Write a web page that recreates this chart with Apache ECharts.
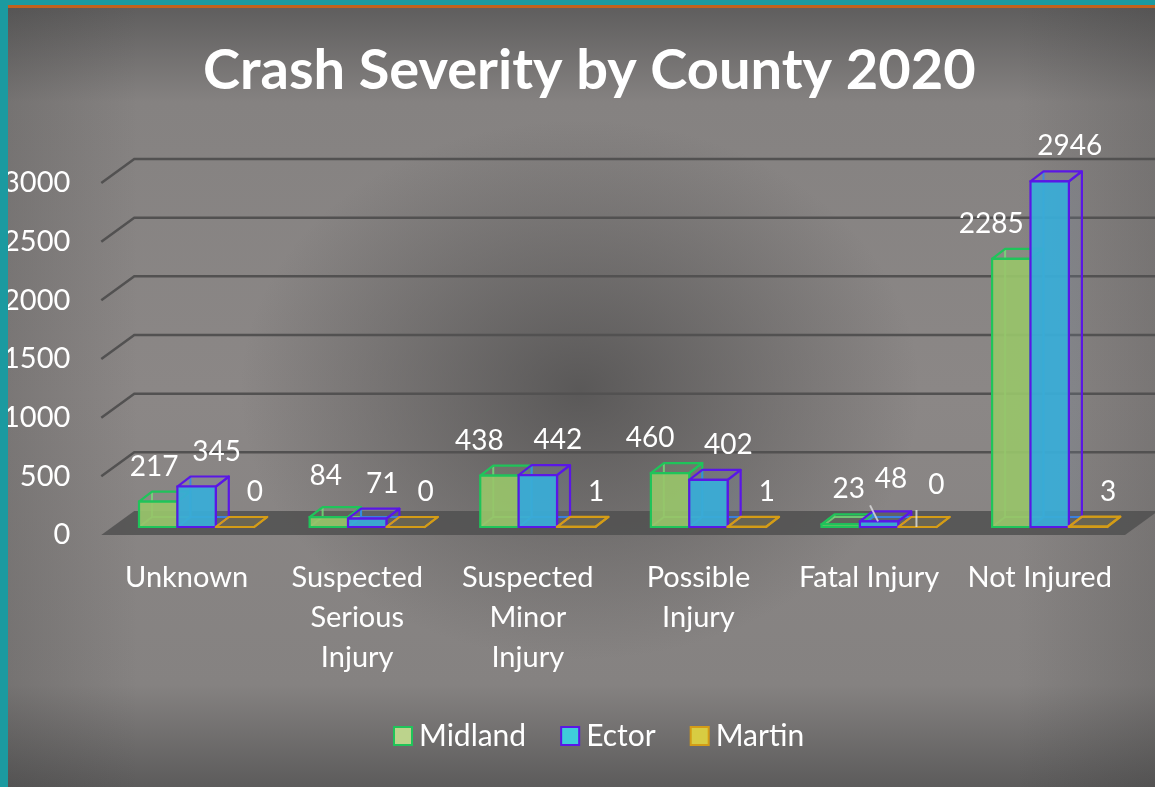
<!DOCTYPE html>
<html>
<head>
<meta charset="utf-8">
<script src="https://cdn.jsdelivr.net/npm/echarts@6/dist/echarts.min.js"></script>
<style>
html, body { margin: 0; padding: 0; }
#page {
    position: relative; width: 1155px; height: 787px; overflow: hidden;
    background:
        radial-gradient(ellipse 340px 270px at 580px 390px, rgba(78,77,77,0.8) 0%, rgba(78,77,77,0) 100%),
        linear-gradient(to right, rgba(40,40,40,0.18) 0%, rgba(40,40,40,0) 12%, rgba(40,40,40,0) 88%, rgba(40,40,40,0.18) 100%),
        linear-gradient(to bottom, #5c5b5b 0%, #858281 13%, #8b8786 50%, #858281 87%, #5c5b5b 100%);
}
#chart { position: absolute; left: 0; top: 0; width: 1155px; height: 787px; }
.edge-left { position: absolute; left: 0; top: 0; width: 8px; height: 787px; background: #1b9aa0; z-index: 5; }
.edge-top { position: absolute; left: 0; top: 0; width: 1155px; height: 5px; background: #1b9aa0; z-index: 5; }
.edge-orange { position: absolute; left: 8px; top: 5px; width: 1147px; height: 2.5px; background: #c2611d; z-index: 5; }
</style>
</head>
<body>
<div id="page">
    <div id="chart"></div>
    <div class="edge-left"></div>
    <div class="edge-top"></div>
    <div class="edge-orange"></div>
</div>
<script>
// data
const categories = ['Unknown', 'Suspected\nSerious\nInjury', 'Suspected\nMinor\nInjury', 'Possible\nInjury', 'Fatal Injury', 'Not Injured'];
const midland = [217, 84, 438, 460, 23, 2285];
const ector = [345, 71, 442, 402, 48, 2946];
const martin = [0, 0, 1, 1, 0, 3];
const yTicks = [0, 500, 1000, 1500, 2000, 2500, 3000];

// 3D look
const FLOOR_DX = 33, FLOOR_DY = 24;    // depth of the floor
const SHIFT_X = 10, SHIFT_Y = 8;       // bars sit a bit behind the front edge
const DEPTH_X = 13, DEPTH_Y = 10;      // depth of one bar
const BAR_FRAC = 0.225;
const FONT = 'Lato, "Open Sans", sans-serif';

// label tweaks where the original moved a label away from the default spot
const labelNudge = {
    '0:0': { dx: -4 },
    '0:1': { dx: -3, dy: -41 },
    '1:1': { dx: 15 },
    '0:4': { dx: 8 },
    '1:4': { dx: 12, dy: -42, lead: [-9, -16, -1, 0] },
    '2:4': { dx: 19, dy: -42, lead: [-1, -17, -1, 0] }
};

const looks = [
    { name: 'Midland', fill: 'rgba(152,196,106,0.92)', stroke: '#1fc45a', hidden: 'rgba(110,230,120,0.8)', side: 'rgba(150,190,120,0.12)', legendFill: '#bcd38c' },
    { name: 'Ector', fill: 'rgba(58,172,214,0.95)', stroke: '#5a17e6', hidden: 'rgba(40,130,250,0.9)', side: 'rgba(130,150,180,0.18)', legendFill: '#3fcdda' },
    { name: 'Martin', fill: 'rgba(210,180,60,0.25)', stroke: '#d49c16', hidden: 'rgba(230,180,40,0.6)', side: 'rgba(210,180,60,0.15)', legendFill: '#d8cc42' }
];

function barRender(si) {
    const lk = looks[si];
    return function (params, api) {
        const cat = api.value(0);
        const val = api.value(1);
        const base = api.coord([cat, 0]);
        const top = api.coord([cat, val]);
        const band = api.size([1, 0])[0];
        const w = band * BAR_FRAC;
        const xL = base[0] + SHIFT_X + (si - 1.5) * w;
        const xR = xL + w;
        const yB = base[1] - SHIFT_Y;
        const yT = top[1] - SHIFT_Y;
        const dx = DEPTH_X, dy = -DEPTH_Y;
        const kids = [];

        // edges behind the box
        kids.push({ type: 'polyline', shape: { points: [[xL + dx, yT + dy], [xL + dx, yB + dy], [xR + dx, yB + dy]] },
            style: { stroke: lk.hidden, lineWidth: 2, fill: null } });
        kids.push({ type: 'line', shape: { x1: xL, y1: yB, x2: xL + dx, y2: yB + dy },
            style: { stroke: lk.hidden, lineWidth: 2 } });
        // right side and top
        kids.push({ type: 'polygon', shape: { points: [[xR, yT], [xR + dx, yT + dy], [xR + dx, yB + dy], [xR, yB]] },
            style: { fill: lk.side, stroke: lk.stroke, lineWidth: 2.2, lineJoin: 'round' } });
        kids.push({ type: 'polygon', shape: { points: [[xL, yT], [xR, yT], [xR + dx, yT + dy], [xL + dx, yT + dy]] },
            style: { fill: lk.side, stroke: lk.stroke, lineWidth: 2.2, lineJoin: 'round' } });
        // front
        kids.push({ type: 'rect', shape: { x: xL, y: yT, width: w, height: Math.max(yB - yT, 0) },
            style: { fill: lk.fill, stroke: lk.stroke, lineWidth: 2.2 } });

        // value label
        const nd = labelNudge[si + ':' + cat] || {};
        const cx = xL + w / 2;
        const lx = cx + (nd.dx !== undefined ? nd.dx : (si === 0 ? -20 : 20));
        const ly = yT + (nd.dy !== undefined ? nd.dy : -35);
        if (nd.lead) {
            kids.push({ type: 'line', shape: { x1: cx + nd.lead[0], y1: yT + nd.lead[1], x2: cx + nd.lead[2], y2: yT + nd.lead[3] },
                style: { stroke: 'rgba(225,225,225,0.8)', lineWidth: 2 } });
        }
        kids.push({ type: 'text', style: { text: String(val), x: lx, y: ly, fill: '#ffffff',
            fontSize: 28, fontFamily: FONT, align: 'center', verticalAlign: 'middle' } });

        return { type: 'group', children: kids };
    };
}

function wallRender(params, api) {
    const v = api.value(1);
    const y = api.coord([0, v])[1];
    const cs = params.coordSys;
    const x0 = cs.x;
    const kids = [];
    if (v === 0) {
        kids.push({ type: 'polygon', shape: { points: [[x0, y], [x0 + cs.width, y], [x0 + cs.width + FLOOR_DX, y - FLOOR_DY], [x0 + FLOOR_DX, y - FLOOR_DY]] },
            style: { fill: 'rgba(80,80,80,0.85)' } });
    } else {
        kids.push({ type: 'polyline', shape: { points: [[x0, y], [x0 + FLOOR_DX, y - FLOOR_DY], [1160, y - FLOOR_DY]] },
            style: { stroke: '#525151', lineWidth: 2.5, fill: null } });
    }
    return { type: 'group', children: kids };
}

const chart = echarts.init(document.getElementById('chart'));

const option = {
    backgroundColor: 'transparent',
    animation: false,
    title: {
        text: 'Crash Severity by County 2020',
        left: 198,
        top: 38,
        textStyle: { color: '#ffffff', fontSize: 56, fontWeight: 'bold', fontFamily: FONT }
    },
    legend: {
        bottom: 31,
        left: 388,
        itemWidth: 18,
        itemHeight: 18,
        itemGap: 34,
        textStyle: { color: '#ffffff', fontSize: 30, fontFamily: FONT, padding: [0, 0, 0, 2] },
        data: looks.map(lk => ({
            name: lk.name,
            icon: 'rect',
            itemStyle: { color: lk.legendFill, borderColor: lk.stroke, borderWidth: 2 }
        }))
    },
    grid: { left: 97, right: 30, top: 183, bottom: 252 },
    xAxis: {
        type: 'category',
        data: categories,
        axisLine: { show: false },
        axisTick: { show: false },
        axisLabel: { color: '#ffffff', fontSize: 29, lineHeight: 40, fontFamily: FONT, margin: 23, interval: 0 }
    },
    yAxis: {
        type: 'value',
        min: 0,
        max: 3000,
        interval: 500,
        axisLine: { show: false },
        axisTick: { show: false },
        splitLine: { show: false },
        axisLabel: { color: '#ffffff', fontSize: 29, fontFamily: FONT, margin: 31, formatter: v => String(v) }
    },
    series: [
        {
            name: 'walls',
            type: 'custom',
            renderItem: wallRender,
            data: yTicks.map(v => [0, v]),
            clip: false,
            silent: true,
            z: 1
        }
    ].concat([midland, ector, martin].map((vals, si) => ({
        name: looks[si].name,
        type: 'custom',
        renderItem: barRender(si),
        data: vals.map((v, i) => [i, v]),
        itemStyle: { color: looks[si].legendFill, borderColor: looks[si].stroke },
        clip: false,
        z: 2 + si
    })))
};

chart.setOption(option);
</script>
</body>
</html>
